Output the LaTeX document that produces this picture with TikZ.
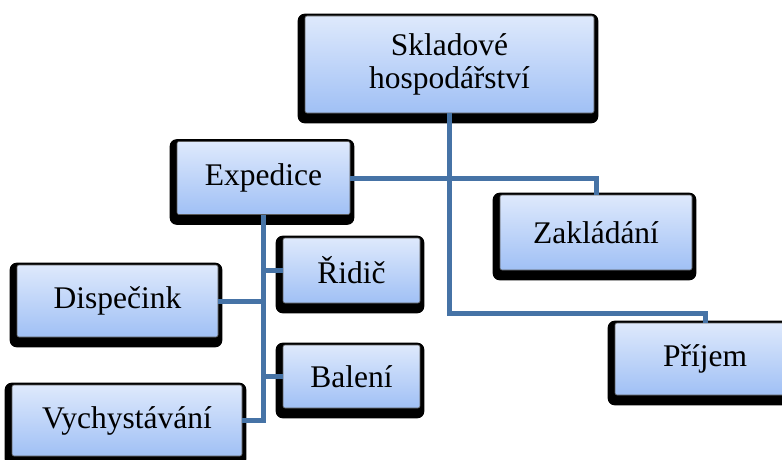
\documentclass[tikz,border=0pt]{standalone}
\usepackage{fontspec}
\setmainfont{Liberation Serif}
\usetikzlibrary{backgrounds}
\definecolor{bxtop}{RGB}{222,233,252}
\definecolor{bxbot}{RGB}{160,192,245}
\definecolor{lnk}{RGB}{70,115,166}
\begin{document}
\begin{tikzpicture}[x=1pt,y=-1pt,
  box/.style={draw=black!65, line width=0.6pt, rounded corners=2pt,
    top color=bxtop, bottom color=bxbot, inner sep=0pt, align=center,
    font=\fontsize{31.5}{33}\selectfont},
  link/.style={draw=lnk, line width=5pt},
  shad/.style={fill=black, rounded corners=7pt}]
\useasboundingbox (0,0) rectangle (782,460);
\clip (0,0) rectangle (782,460);
\node[box, minimum width=289pt, minimum height=97pt] (sk) at (449.5,64.5) {Skladové\\hospodářství};
\node[box, minimum width=173pt, minimum height=73pt] (ex) at (263.5,178) {Expedice};
\node[box, minimum width=192pt, minimum height=75pt] (za) at (596,232.5) {Zakládání};
\node[box, minimum width=201pt, minimum height=72pt] (di) at (117.5,301) {Dispečink};
\node[box, minimum width=137pt, minimum height=65pt] (ri) at (351.5,270.5) {Řidič};
\node[box, minimum width=137pt, minimum height=63pt] (ba) at (351.5,376.5) {Balení};
\node[box, minimum width=230pt, minimum height=71pt] (vy) at (127,420.5) {Vychystávání};
\node[box, minimum width=180pt, minimum height=72pt] (pr) at (705,359) {Příjem};
\begin{pgfonlayer}{background}
\foreach \n in {sk,ex,za,di,ri,ba,vy,pr}
  \fill[shad] ([shift={(-7,-2)}]\n.north west) rectangle ([shift={(4,10)}]\n.south east);
\end{pgfonlayer}
\coordinate (j1) at (449.5,313);
\draw[link] (sk.south) -- (j1) -| (pr.north);
\draw[link] (ex.east) -| (za.north);
\draw[link] (ex.south) -- (ex.south |- vy.east) -- (vy.east);
\draw[link] (di.east) -- (ex.south |- di.east);
\draw[link] (ri.west) -- (ex.south |- ri.west);
\draw[link] (ba.west) -- (ex.south |- ba.west);
\end{tikzpicture}
\end{document}
